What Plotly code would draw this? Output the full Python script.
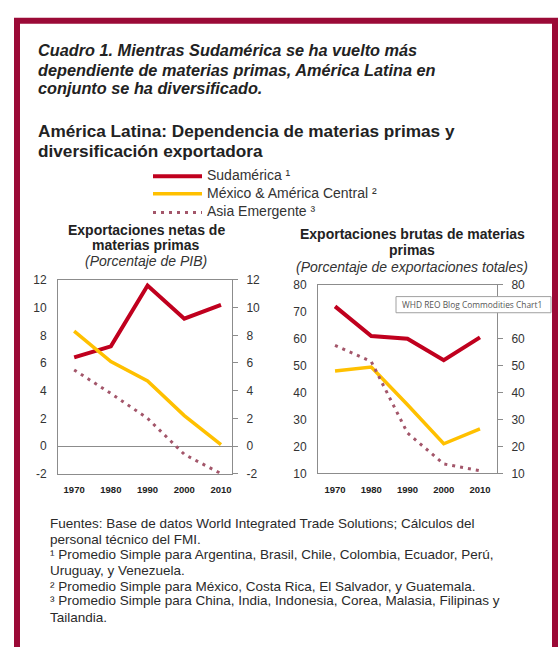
import plotly.graph_objects as go

# ---------------- data ----------------
years = [1970, 1980, 1990, 2000, 2010]
year_labels = ["1970", "1980", "1990", "2000", "2010"]

net_sud = [6.4, 7.2, 11.6, 9.2, 10.2]
net_mex = [8.3, 6.1, 4.7, 2.2, 0.1]
net_asia = [5.5, 3.8, 2.0, -0.6, -2.0]

gross_sud = [72.0, 61.0, 60.0, 52.0, 60.5]
gross_mex = [48.0, 49.5, 35.5, 21.0, 26.5]
gross_asia = [57.5, 51.5, 25.0, 13.5, 11.0]

series_names = ["Sudamérica ¹", "México & América Central ²", "Asia Emergente ³"]
left_ticks = [-2, 0, 2, 4, 6, 8, 10, 12]
left_tick_text = ["-2", "0", "2", "4", "6", "8", "10", "12"]
right_ticks = [10, 20, 30, 40, 50, 60, 70, 80]
right_tick_text = ["10", "20", "30", "40", "50", "60", "70", "80"]
# on the right-hand axis of the second panel the "70" label is hidden by the tooltip box
right_ticks_r = [10, 20, 30, 40, 50, 60, 80]
right_tick_text_r = ["10", "20", "30", "40", "50", "60", "80"]

# ---------------- style ----------------
W, H = 558, 647
RED = "#C0001E"
YEL = "#FFC000"
ASIA = "#A3566A"
AX = "#8C8C8C"
TXT = "#222222"
FRAME = "#9B0A37"
FONT = "Liberation Sans, Arial, sans-serif"
NARROW = "Liberation Sans Narrow, Arial Narrow, Liberation Sans, Arial, sans-serif"

def px(x):
    return x / W

def py(y):
    return 1 - y / H

styles = [
    dict(color=RED, width=4),
    dict(color=YEL, width=3.5),
    dict(color=ASIA, width=3, dash="3px,5px"),
]

fig = go.Figure()

for vals, st in zip([net_sud, net_mex, net_asia], styles):
    fig.add_trace(go.Scatter(x=years, y=vals, mode="lines", line=st,
                             xaxis="x", yaxis="y", showlegend=False, hoverinfo="skip"))
for vals, st in zip([gross_sud, gross_mex, gross_asia], styles):
    fig.add_trace(go.Scatter(x=years, y=vals, mode="lines", line=st,
                             xaxis="x2", yaxis="y2", showlegend=False, hoverinfo="skip"))
# invisible traces to activate the right-side mirrored axes
fig.add_trace(go.Scatter(x=years, y=net_sud, mode="lines", opacity=0,
                         xaxis="x", yaxis="y3", showlegend=False, hoverinfo="skip"))
fig.add_trace(go.Scatter(x=years, y=gross_sud, mode="lines", opacity=0,
                         xaxis="x2", yaxis="y4", showlegend=False, hoverinfo="skip"))

xcommon = dict(tickvals=years, ticktext=["<b>" + t + "</b>" for t in year_labels],
               showgrid=False, zeroline=False,
               showline=True, linecolor=AX, linewidth=1, mirror=True, ticks="",
               tickfont=dict(family=NARROW, size=9.5, color=TXT),
               ticklabelstandoff=7)
ycommon = dict(showgrid=False, showline=True, linecolor=AX, linewidth=1, mirror=True,
               ticks="", tickfont=dict(family=FONT, size=12, color="#333333"),
               ticklabelstandoff=8)
yright = dict(showgrid=False, showline=False, ticks="outside", ticklen=5, tickcolor=AX,
              tickfont=dict(family=FONT, size=12, color="#333333"), side="right",
              ticklabelstandoff=6, zeroline=False)

fig.update_layout(
    width=W, height=H,
    margin=dict(l=0, r=0, t=0, b=0),
    paper_bgcolor="white", plot_bgcolor="white",
    showlegend=False,
    xaxis=dict(domain=[px(58), px(232)], range=[1965.6, 2013], anchor="y", **xcommon),
    yaxis=dict(domain=[py(477), py(279)], range=[-2, 12], anchor="x",
               tickvals=left_ticks, ticktext=left_tick_text,
               zeroline=True, zerolinecolor=AX, zerolinewidth=1, **ycommon),
    yaxis3=dict(overlaying="y", anchor="x", range=[-2, 12],
                tickvals=left_ticks, ticktext=left_tick_text, **yright),
    xaxis2=dict(domain=[px(318), px(497)], range=[1965.3, 2014.7], anchor="y2", **xcommon),
    yaxis2=dict(domain=[py(476.7), py(284)], range=[10, 80], anchor="x2",
                tickvals=right_ticks, ticktext=right_tick_text, zeroline=False, **ycommon),
    yaxis4=dict(overlaying="y2", anchor="x2", range=[10, 80],
                tickvals=right_ticks_r, ticktext=right_tick_text_r, **yright),
)

shapes = []
# frame
shapes.append(dict(type="rect", xref="paper", yref="paper",
                   x0=px(17), x1=px(555), y0=py(14), y1=py(700),
                   line=dict(color=FRAME, width=6), fillcolor="rgba(0,0,0,0)", layer="above"))
# legend keys
for i, st in enumerate(styles):
    yy = [173, 191, 210][i]
    shapes.append(dict(type="line", xref="paper", yref="paper",
                       x0=px(153), x1=px(202), y0=py(yy), y1=py(yy),
                       line=dict(color=st["color"], width=st["width"], dash=st.get("dash", "solid"))))
# tooltip box
shapes.append(dict(type="rect", xref="paper", yref="paper",
                   x0=px(396), x1=px(551), y0=py(296), y1=py(312.5),
                   line=dict(color="#A0A0A0", width=1), fillcolor="white", layer="above"))
fig.update_layout(shapes=shapes)

ann = []
def text(x, y, s, size, bold=False, italic=False, anchor="left", color=TXT, family=FONT):
    if italic:
        s = "<i>" + s + "</i>"
    if bold:
        s = "<b>" + s + "</b>"
    ann.append(dict(x=px(x), y=py(y), xref="paper", yref="paper", text=s, showarrow=False,
                    xanchor=anchor, yanchor="middle", align=anchor,
                    font=dict(family=family, size=size, color=color)))

# main title
text(36, 44, "Cuadro 1. Mientras Sudamérica se ha vuelto más", 16.3, bold=True, italic=True)
text(36, 64, "dependiente de materias primas, América Latina en", 16.3, bold=True, italic=True)
text(36, 83, "conjunto se ha diversificado.", 16.3, bold=True, italic=True)
# subtitle
text(36, 127, "América Latina: Dependencia de materias primas y", 17.2, bold=True)
text(36, 147, "diversificación exportadora", 17.2, bold=True)
# legend text
for i, nm in enumerate(series_names):
    text(205, [172, 190, 209][i], nm, 14, color="#333333")
# panel titles
text(146, 228, "Exportaciones netas de", 14, bold=True, anchor="center")
text(146, 243, "materias primas", 14, bold=True, anchor="center")
text(146, 260, "(Porcentaje de PIB)", 14, italic=True, anchor="center", color="#333333")
text(412, 232, "Exportaciones brutas de materias", 14, bold=True, anchor="center")
text(412, 248, "primas", 14, bold=True, anchor="center")
text(412, 266, "(Porcentaje de exportaciones totales)", 14, italic=True, anchor="center", color="#333333")
# tooltip
text(400, 304, "WHD REO Blog Commodities Chart1", 8.4, color="#555555", family="Open Sans, sans-serif")
# footnotes
notes = [
    "Fuentes: Base de datos World Integrated Trade Solutions; Cálculos del",
    "personal técnico del FMI.",
    "¹ Promedio Simple para Argentina, Brasil, Chile, Colombia, Ecuador, Perú,",
    "Uruguay, y Venezuela.",
    "² Promedio Simple para México, Costa Rica, El Salvador, y Guatemala.",
    "³ Promedio Simple para China, India, Indonesia, Corea, Malasia, Filipinas y",
    "Tailandia.",
]
for i, s in enumerate(notes):
    text(48, [528, 544, 560, 576, 592, 607, 624][i], s, 13.5, color="#2a2a2a")

fig.update_layout(annotations=ann)
fig.write_html("out.html", config={"displayModeBar": False, "staticPlot": True},
               post_script="document.body.style.margin='0px';document.body.style.overflow='hidden';")
